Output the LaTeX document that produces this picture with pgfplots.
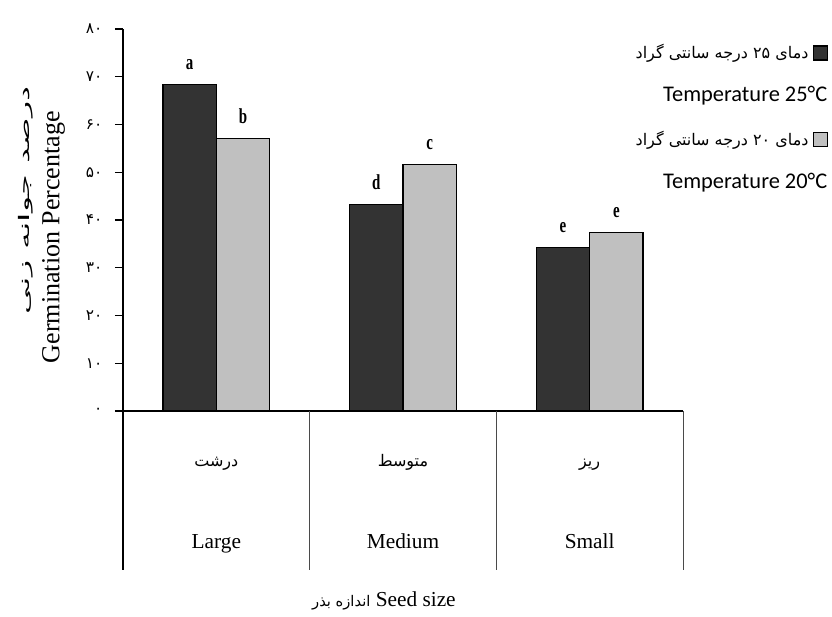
\documentclass[border=0pt]{standalone}
\usepackage{fontspec}
\setmainfont{Liberation Serif}
\newfontfamily\fa[Script=Arabic]{DejaVu Sans}
\newfontfamily\calfont{Carlito}
\usepackage{graphicx}
\usepackage{pgfplots}
\pgfplotsset{compat=1.18}
\TeXXeTstate=1
\definecolor{darkbar}{HTML}{333333}
\definecolor{lightbar}{HTML}{C0C0C0}
\definecolor{sepgray}{HTML}{4A4A4A}

\pgfplotstableread{
x y lab
0 68.3 a
1 43.3 d
2 34.2 e
}\tempA
\pgfplotstableread{
x y lab
0 57.0 b
1 51.7 c
2 37.3 e
}\tempB

\begin{document}
\begin{tikzpicture}
\useasboundingbox (-92.25pt,-154.5pt) rectangle (531.75pt,308.25pt);
\begin{axis}[
  at={(0,0)}, anchor=south west,
  scale only axis, width=420pt, height=286.5pt,
  xmin=-0.5, xmax=2.5, ymin=0, ymax=80,
  clip=false,
  axis lines=left,
  axis line style={-, black, line width=0.9pt},
  ybar=0pt, bar width=40pt,
  ytick={0,10,20,30,40,50,60,70,80},
  yticklabels={۰,۱۰,۲۰,۳۰,۴۰,۵۰,۶۰,۷۰,۸۰},
  yticklabel style={font=\fa\fontsize{11.5}{13}\selectfont, xshift=-6pt, text=black},
  tick align=outside, major tick length=6pt,
  ytick style={black, line width=0.9pt},
  xtick={0,1,2},
  xticklabels={Large,Medium,Small},
  xtick style={draw=none},
  xticklabel style={font=\fontsize{16}{19}\selectfont, anchor=base, yshift=-96.75pt},
  extra x ticks={0,1,2},
  extra x tick labels={{\fa\fontsize{12}{14}\selectfont\beginR درشت\endR},{\fa\fontsize{12}{14}\selectfont\beginR متوسط\endR},{\fa\fontsize{12}{14}\selectfont\beginR ریز\endR}},
  extra x tick style={xtick style={draw=none}, xticklabel style={yshift=61.5pt}},
  legend cell align=right,
  legend plot pos=right,
  legend style={at={(axis description cs:1,1)}, anchor=north east, xshift=108.75pt, yshift=-9.75pt,
    draw=none, fill=none, inner sep=0pt, row sep=16.6pt, column sep=3pt,
    font=\calfont\fontsize{16.8}{19}\selectfont,
    nodes={text height=12pt, text depth=4pt, inner sep=0pt}},
  every node near coord/.append style={font=\bfseries\fontsize{16}{16}\selectfont, anchor=base, yshift=11.25pt, text=black},
]
\addplot[fill=darkbar, draw=black, line width=0.9pt,
  legend image code/.code={\draw[fill=darkbar, draw=black, line width=0.9pt] (0pt,-5.25pt) rectangle (10.5pt,5.25pt);},
  nodes near coords={\scalebox{0.7}[1]{\pgfplotspointmeta}}, point meta=explicit symbolic]
  table[x=x, y=y, meta=lab] {\tempA};
\addlegendentry{{\fa\fontsize{12}{14}\selectfont\beginR دمای \beginL۲۵\endL{} درجه سانتی گراد\endR}}
\addlegendimage{empty legend}
\addlegendentry{Temperature 25°C\hspace*{-14pt}}
\addplot[fill=lightbar, draw=black, line width=0.9pt,
  legend image code/.code={\draw[fill=lightbar, draw=black, line width=0.9pt] (0pt,-5.25pt) rectangle (10.5pt,5.25pt);},
  nodes near coords={\scalebox{0.7}[1]{\pgfplotspointmeta}}, point meta=explicit symbolic]
  table[x=x, y=y, meta=lab] {\tempB};
\addlegendentry{{\fa\fontsize{12}{14}\selectfont\beginR دمای \beginL۲۰\endL{} درجه سانتی گراد\endR}}
\addlegendimage{empty legend}
\addlegendentry{Temperature 20°C\hspace*{-14pt}}

\draw[black, line width=0.9pt] (axis cs:-0.5,0) -- ([yshift=-119.25pt]axis cs:-0.5,0);
\draw[sepgray, line width=0.7pt] (axis cs:0.5,0) -- ([yshift=-119.25pt]axis cs:0.5,0);
\draw[sepgray, line width=0.7pt] (axis cs:1.5,0) -- ([yshift=-119.25pt]axis cs:1.5,0);
\draw[sepgray, line width=0.7pt] (axis cs:2.5,0) -- ([yshift=-119.25pt]axis cs:2.5,0);

\node[rotate=90, font=\fontsize{19.5}{24}\selectfont] at (axis description cs:-0.124,0.455) {Germination Percentage};
\node[rotate=90, font=\fa\fontsize{11}{13}\selectfont] at (axis description cs:-0.174,0.552) {\scalebox{2.3}[1]{\beginR درصد جوانه زنی\endR}};
\node[anchor=base, font=\fontsize{16}{19}\selectfont] at (axis description cs:0.466,-0.513) {{\fa\fontsize{11}{13}\selectfont\beginR اندازه بذر\endR} Seed size};
\end{axis}
\end{tikzpicture}
\end{document}
